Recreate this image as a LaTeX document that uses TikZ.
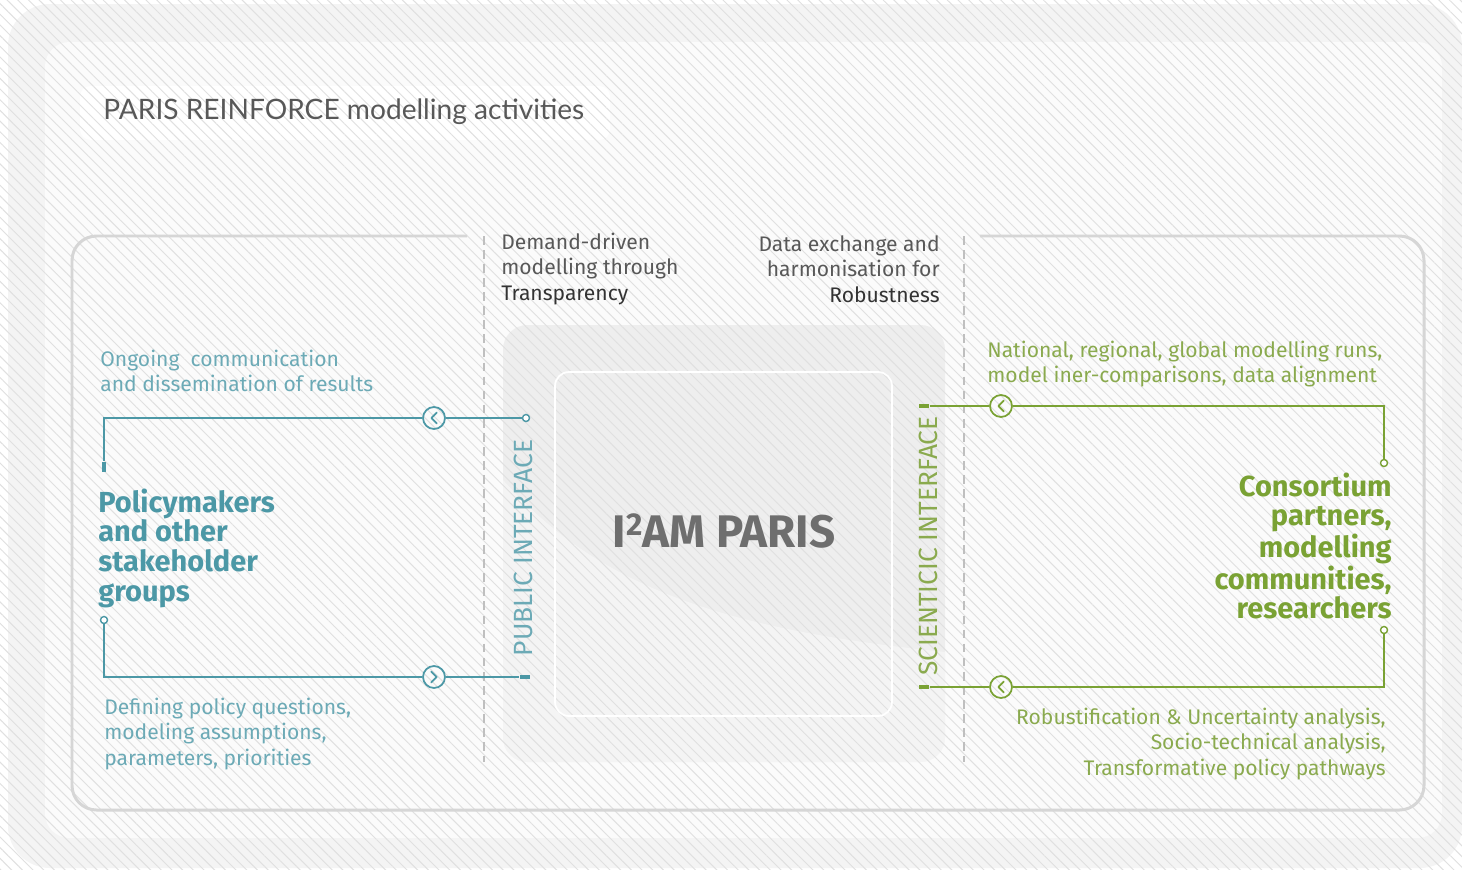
\documentclass[tikz,border=0pt]{standalone}
\usepackage{fontspec}
\setmainfont{Fira Sans}
\newfontfamily\titlefont{Lato}
\usetikzlibrary{patterns.meta, positioning}

\definecolor{tealline}{RGB}{76,152,166}
\definecolor{tealtext}{RGB}{108,170,182}
\definecolor{greenline}{RGB}{122,162,52}
\definecolor{greentext}{RGB}{138,170,78}
\definecolor{framegray}{RGB}{214,214,214}
\definecolor{textgray}{RGB}{88,88,88}

\begin{document}
\begin{tikzpicture}[x=0.02cm, y=-0.02cm,
    small text/.style={inner sep=0pt, align=left, font=\fontsize{12}{14.6}\selectfont},
    big text/.style={inner sep=0pt, align=left, font=\bfseries\fontsize{16.5}{16.9}\selectfont},
    iface text/.style={inner sep=0pt, rotate=90, font=\fontsize{15}{16}\selectfont},
    conn line/.style={line width=1.1pt},
    end dot/.style={circle, draw, fill=white, line width=0.8pt, minimum size=4pt, inner sep=0pt},
    end bar/.style={rectangle, fill, inner sep=0pt, minimum width=#1},
    left arrow/.style={circle, draw, line width=1pt, minimum size=12.5pt, inner sep=0pt,
        path picture={\draw[line width=1pt, line cap=round, line join=round]
            ([shift={(1.6pt,3.1pt)}]path picture bounding box.center) -- ++(-3.1pt,-3.1pt) -- ++(3.1pt,-3.1pt);}},
    right arrow/.style={circle, draw, line width=1pt, minimum size=12.5pt, inner sep=0pt,
        path picture={\draw[line width=1pt, line cap=round, line join=round]
            ([shift={(-1.6pt,3.1pt)}]path picture bounding box.center) -- ++(3.1pt,-3.1pt) -- ++(-3.1pt,-3.1pt);}}]

% background and hatching
\useasboundingbox (0,0) rectangle (1462,869);
\fill[white] (0,0) rectangle (1462,869);
\fill[gray!9, rounded corners=24pt] (8,4) rectangle (1462,868);
\fill[gray!3, rounded corners=14pt] (45,42) rectangle (1442,838);
\fill[white, rounded corners=6pt] (80,86) rectangle (610,140);
\fill[gray!13, rounded corners=14pt] (503,325) rectangle (945,762);
\begin{scope}
\clip[rounded corners=14pt] (503,325) rectangle (945,762);
\fill[white, opacity=0.4] (503,480) .. controls (600,590) and (730,630) .. (945,652)
    -- (945,762) -- (503,762) -- cycle;
\end{scope}
\pattern[pattern={Lines[angle=-45, distance=4.3pt, line width=0.55pt]}, pattern color=gray!24]
    (0,0) rectangle (1462,869);
\draw[white, line width=1pt, rounded corners=8pt] (555,372) rectangle (892,716);

% frame
\draw[framegray, line width=1.7pt, rounded corners=14pt]
    (467,236) -- (72,236) -- (72,810) -- (1424,810) -- (1424,236) -- (980,236);
\draw[gray!50, line width=0.6pt, dash pattern=on 5pt off 3pt] (484,236) -- (484,762);
\draw[gray!50, line width=0.6pt, dash pattern=on 5pt off 3pt] (964,236) -- (964,762);

% texts
\node[anchor=west, inner sep=0pt, text=textgray, font=\titlefont\fontsize{16}{18}\selectfont]
    (title) at (103,112) {PARIS REINFORCE modelling activities};
\node[small text, anchor=west, text=textgray] (demand) at (501,269)
    {Demand-driven\\modelling through\\\textcolor{black!80}{Transparency}};
\node[small text, anchor=east, align=right, text=textgray] (exchange) at (940,269)
    {Data exchange and\\harmonisation for\\\textcolor{black!80}{Robustness}};
\node[font=\bfseries\fontsize{26}{28}\selectfont, text=black!57] (iam) at (724,531)
    {I\raisebox{0.5ex}{\fontsize{18}{18}\selectfont 2}AM PARIS};
\node[iface text, text=tealtext] (pubif) at (523,548) {PUBLIC INTERFACE};
\node[iface text, text=greentext] (sciif) at (928,546) {SCIENTICIC INTERFACE};

\node[small text, anchor=west, text=tealtext] (ongoing) at (100,371)
    {Ongoing~ communication\\and dissemination of results};
\node[big text, anchor=west, text=tealline] (policy) at (98,548)
    {Policymakers\\and other\\stakeholder\\groups};
\node[small text, anchor=west, text=tealtext] (defining) at (104,734)
    {Defining policy questions,\\modeling assumptions,\\parameters, priorities};

\node[small text, anchor=west, text=greentext] (national) at (987,364)
    {National, regional, global modelling runs,\\model iner-comparisons, data alignment};
\node[big text, anchor=east, align=right, text=greenline] (consortium) at (1392,546)
    {Consortium\\partners,\\modelling\\communities,\\researchers};
\node[small text, anchor=east, align=right, text=greentext] (robust) at (1386,744)
    {Robustification \& Uncertainty analysis,\\Socio-technical analysis,\\Transformative policy pathways};

% public interface connectors
\begin{scope}[tealline]
\node[end dot] (pubout) at (526,418) {};
\node[left arrow] (arrpa) at (434,418) {};
\coordinate (cpa) at (104,418);
\node[end bar=2pt, minimum height=6pt] (barpa) at (104,467) {};
\draw[conn line] (pubout) -- (arrpa) -- (cpa) -- (barpa);

\node[end dot] (dotpb) at (104,620) {};
\coordinate (cpb) at (104,677);
\node[right arrow] (arrpb) at (434,677) {};
\node[end bar=6pt, minimum height=2pt] (pubin) at (525,677) {};
\draw[conn line] (dotpb) -- (cpb) -- (arrpb) -- (pubin);
\end{scope}

% scientific interface connectors
\begin{scope}[greenline]
\node[end bar=6pt, minimum height=2pt] (sciout) at (924,406) {};
\node[left arrow] (arrsa) at (1001,406) {};
\coordinate (csa) at (1384,406);
\node[end dot] (dotsa) at (1384,463) {};
\draw[conn line] (sciout) -- (arrsa) -- (csa) -- (dotsa);

\node[end dot] (dotsb) at (1384,630) {};
\coordinate (csb) at (1384,687);
\node[left arrow] (arrsb) at (1001,687) {};
\node[end bar=6pt, minimum height=2pt] (sciin) at (924,687) {};
\draw[conn line] (dotsb) -- (csb) -- (arrsb) -- (sciin);
\end{scope}
\end{tikzpicture}
\end{document}
